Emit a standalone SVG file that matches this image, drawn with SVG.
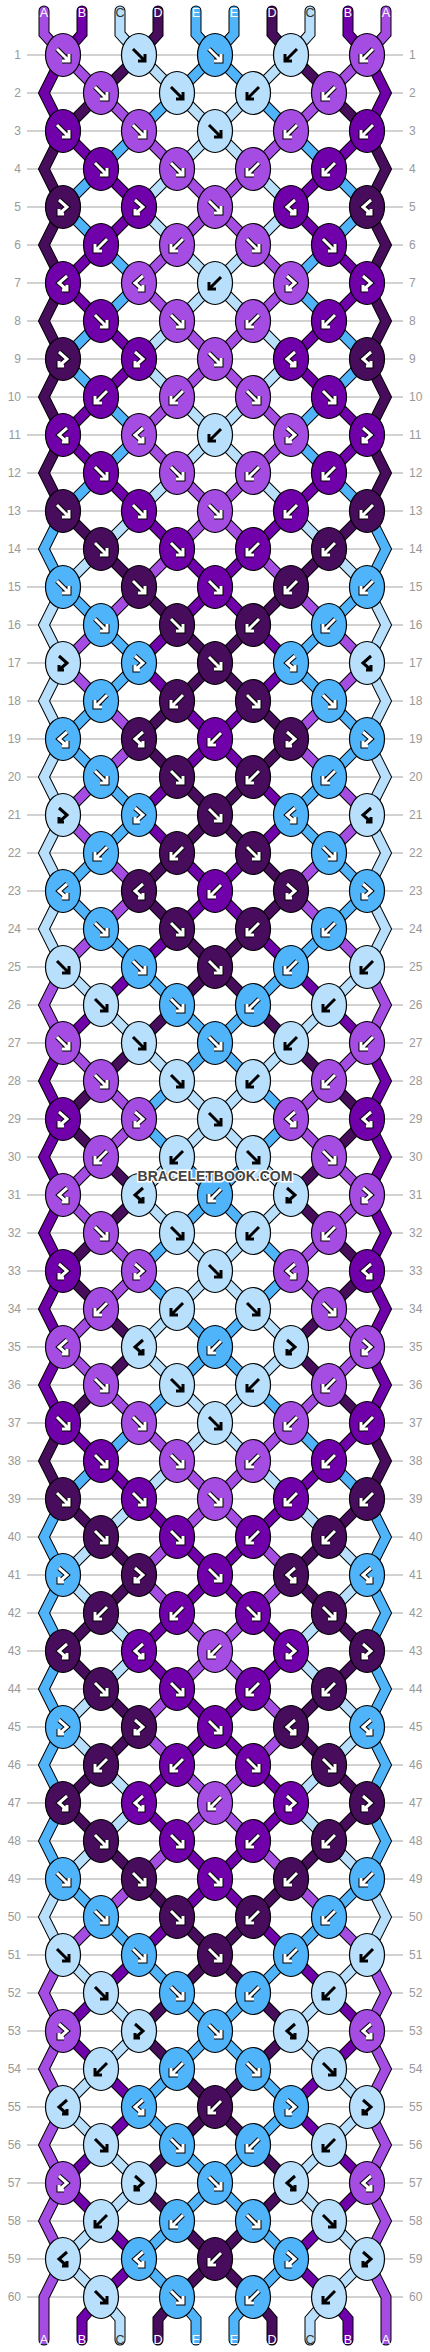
<svg xmlns="http://www.w3.org/2000/svg" xmlns:xlink="http://www.w3.org/1999/xlink" width="430" height="2352" viewBox="0 0 430 2352">
<style>
.A{fill:#a54de3}.B{fill:#7000aa}.C{fill:#b8e0fc}.D{fill:#470c5c}.E{fill:#4fb4fa}
.so use{fill:none;stroke:#000;stroke-width:11;stroke-linecap:round}
.sc use{fill:none;stroke-width:9;stroke-linecap:round}
.sA{stroke:#a54de3}.sB{stroke:#7000aa}.sC{stroke:#b8e0fc}.sD{stroke:#470c5c}.sE{stroke:#4fb4fa}
.ao{fill:none;stroke:#000;stroke-width:5}
.aw{fill:none;stroke:#fff;stroke-width:3}
.ak{fill:none;stroke:#000;stroke-width:3}
.rl{fill:none;stroke:#c4c4c4;stroke-width:1.5}
.nl text,.nr text{font-family:"Liberation Sans",Arial,sans-serif;font-size:12px;fill:#999}
.nl text{text-anchor:end}
.lab text{font-family:"Liberation Sans",Arial,sans-serif;font-size:12.5px;fill:#fff;text-anchor:middle}
.lab text.dk{fill:#333}
.wm{font-family:"Liberation Sans",Arial,sans-serif;font-size:14px;font-weight:bold;fill:#444;text-anchor:middle;stroke:#fff;stroke-width:3;paint-order:stroke}
</style>
<defs>
<ellipse id="kn" rx="17.5" ry="21.5" stroke="#000" stroke-width="1.2"/>
<path id="pf" d="M-6,-6L5.5,5.5M6,-1V6H-1"/>
<path id="pb" d="M6,-6L-5.5,5.5M-6,-1V6H1"/>
<path id="pfb" d="M-4,-7L4,0L-4,7M-4,2V7H1"/>
<path id="pbf" d="M4,-7L-4,0L4,7M4,2V7H-1"/>
<g id="wf"><use href="#pf" class="ao"/><use href="#pf" class="aw"/></g>
<g id="wb"><use href="#pb" class="ao"/><use href="#pb" class="aw"/></g>
<g id="wfb"><use href="#pfb" class="ao"/><use href="#pfb" class="aw"/></g>
<g id="wbf"><use href="#pbf" class="ao"/><use href="#pbf" class="aw"/></g>
<use id="kf" href="#pf" class="ak"/>
<use id="kb" href="#pb" class="ak"/>
<use id="kfb" href="#pfb" class="ak"/>
<use id="kbf" href="#pbf" class="ak"/>
<polyline id="pA" points="44,11 44,34 63,55 101,93 139,131 177,169 215,207 177,245 139,283 177,321 215,359 177,397 139,435 177,473 215,511 177,549 139,587 101,625 63,663 101,701 139,739 101,777 63,815 101,853 139,891 101,929 63,967 44,1005 63,1043 101,1081 139,1119 101,1157 63,1195 101,1233 139,1271 101,1309 63,1347 101,1385 139,1423 177,1461 215,1499 177,1537 139,1575 177,1613 215,1651 177,1689 139,1727 177,1765 215,1803 177,1841 139,1879 101,1917 63,1955 44,1993 63,2031 44,2069 63,2107 44,2145 63,2183 44,2221 63,2259 44,2297 44,2340"/>
<polyline id="pB" points="82,11 82,34 63,55 44,93 63,131 101,169 139,207 101,245 63,283 101,321 139,359 101,397 63,435 101,473 139,511 177,549 215,587 177,625 139,663 177,701 215,739 177,777 139,815 177,853 215,891 177,929 139,967 101,1005 63,1043 44,1081 63,1119 44,1157 63,1195 44,1233 63,1271 44,1309 63,1347 44,1385 63,1423 101,1461 139,1499 177,1537 215,1575 177,1613 139,1651 177,1689 215,1727 177,1765 139,1803 177,1841 215,1879 177,1917 139,1955 101,1993 63,2031 101,2069 139,2107 101,2145 63,2183 101,2221 139,2259 101,2297 82,2319 82,2340"/>
<polyline id="pC" points="120,11 120,34 139,55 177,93 215,131 177,169 139,207 177,245 215,283 177,321 139,359 177,397 215,435 177,473 139,511 101,549 63,587 44,625 63,663 44,701 63,739 44,777 63,815 44,853 63,891 44,929 63,967 101,1005 139,1043 177,1081 215,1119 177,1157 139,1195 177,1233 215,1271 177,1309 139,1347 177,1385 215,1423 177,1461 139,1499 101,1537 63,1575 101,1613 139,1651 101,1689 63,1727 101,1765 139,1803 101,1841 63,1879 44,1917 63,1955 101,1993 139,2031 101,2069 63,2107 101,2145 139,2183 101,2221 63,2259 101,2297 120,2319 120,2340"/>
<polyline id="pD" points="158,11 158,34 139,55 101,93 63,131 44,169 63,207 44,245 63,283 44,321 63,359 44,397 63,435 44,473 63,511 101,549 139,587 177,625 215,663 177,701 139,739 177,777 215,815 177,853 139,891 177,929 215,967 177,1005 139,1043 101,1081 63,1119 101,1157 139,1195 101,1233 63,1271 101,1309 139,1347 101,1385 63,1423 44,1461 63,1499 101,1537 139,1575 101,1613 63,1651 101,1689 139,1727 101,1765 63,1803 101,1841 139,1879 177,1917 215,1955 177,1993 139,2031 177,2069 215,2107 177,2145 139,2183 177,2221 215,2259 177,2297 158,2319 158,2340"/>
<polyline id="pE" points="196,11 196,34 215,55 177,93 139,131 101,169 63,207 101,245 139,283 101,321 63,359 101,397 139,435 101,473 63,511 44,549 63,587 101,625 139,663 101,701 63,739 101,777 139,815 101,853 63,891 101,929 139,967 177,1005 215,1043 177,1081 139,1119 177,1157 215,1195 177,1233 139,1271 177,1309 215,1347 177,1385 139,1423 101,1461 63,1499 44,1537 63,1575 44,1613 63,1651 44,1689 63,1727 44,1765 63,1803 44,1841 63,1879 101,1917 139,1955 177,1993 215,2031 177,2069 139,2107 177,2145 215,2183 177,2221 139,2259 177,2297 196,2319 196,2340"/>
</defs>
<rect width="430" height="2352" fill="#fff"/>
<path id="rowlines" class="rl" d="M27,55H403M27,93H403M27,131H403M27,169H403M27,207H403M27,245H403M27,283H403M27,321H403M27,359H403M27,397H403M27,435H403M27,473H403M27,511H403M27,549H403M27,587H403M27,625H403M27,663H403M27,701H403M27,739H403M27,777H403M27,815H403M27,853H403M27,891H403M27,929H403M27,967H403M27,1005H403M27,1043H403M27,1081H403M27,1119H403M27,1157H403M27,1195H403M27,1233H403M27,1271H403M27,1309H403M27,1347H403M27,1385H403M27,1423H403M27,1461H403M27,1499H403M27,1537H403M27,1575H403M27,1613H403M27,1651H403M27,1689H403M27,1727H403M27,1765H403M27,1803H403M27,1841H403M27,1879H403M27,1917H403M27,1955H403M27,1993H403M27,2031H403M27,2069H403M27,2107H403M27,2145H403M27,2183H403M27,2221H403M27,2259H403M27,2297H403"/>
<g id="connectors">
<g class="so">
<use href="#pA"/><use href="#pB"/><use href="#pC"/><use href="#pD"/><use href="#pE"/>
<use href="#pA" transform="matrix(-1 0 0 1 430 0)"/><use href="#pB" transform="matrix(-1 0 0 1 430 0)"/><use href="#pC" transform="matrix(-1 0 0 1 430 0)"/><use href="#pD" transform="matrix(-1 0 0 1 430 0)"/><use href="#pE" transform="matrix(-1 0 0 1 430 0)"/>
</g>
<g class="sc">
<use href="#pA" class="sA"/><use href="#pB" class="sB"/><use href="#pC" class="sC"/><use href="#pD" class="sD"/><use href="#pE" class="sE"/>
<use href="#pA" class="sA" transform="matrix(-1 0 0 1 430 0)"/><use href="#pB" class="sB" transform="matrix(-1 0 0 1 430 0)"/><use href="#pC" class="sC" transform="matrix(-1 0 0 1 430 0)"/><use href="#pD" class="sD" transform="matrix(-1 0 0 1 430 0)"/><use href="#pE" class="sE" transform="matrix(-1 0 0 1 430 0)"/>
</g>
</g>
<g id="knots">
<g id="k1-1"><use href="#kn" x="63" y="55" class="A"/><use href="#wf" x="63" y="55"/></g>
<g id="k1-2"><use href="#kn" x="139" y="55" class="C"/><use href="#kf" x="139" y="55"/></g>
<g id="k1-3"><use href="#kn" x="215" y="55" class="E"/><use href="#wf" x="215" y="55"/></g>
<g id="k1-4"><use href="#kn" x="291" y="55" class="C"/><use href="#kb" x="291" y="55"/></g>
<g id="k1-5"><use href="#kn" x="367" y="55" class="A"/><use href="#wb" x="367" y="55"/></g>
<g id="k2-1"><use href="#kn" x="101" y="93" class="A"/><use href="#wf" x="101" y="93"/></g>
<g id="k2-2"><use href="#kn" x="177" y="93" class="C"/><use href="#kf" x="177" y="93"/></g>
<g id="k2-3"><use href="#kn" x="253" y="93" class="C"/><use href="#kb" x="253" y="93"/></g>
<g id="k2-4"><use href="#kn" x="329" y="93" class="A"/><use href="#wb" x="329" y="93"/></g>
<g id="k3-1"><use href="#kn" x="63" y="131" class="B"/><use href="#wf" x="63" y="131"/></g>
<g id="k3-2"><use href="#kn" x="139" y="131" class="A"/><use href="#wf" x="139" y="131"/></g>
<g id="k3-3"><use href="#kn" x="215" y="131" class="C"/><use href="#kf" x="215" y="131"/></g>
<g id="k3-4"><use href="#kn" x="291" y="131" class="A"/><use href="#wb" x="291" y="131"/></g>
<g id="k3-5"><use href="#kn" x="367" y="131" class="B"/><use href="#wb" x="367" y="131"/></g>
<g id="k4-1"><use href="#kn" x="101" y="169" class="B"/><use href="#wf" x="101" y="169"/></g>
<g id="k4-2"><use href="#kn" x="177" y="169" class="A"/><use href="#wf" x="177" y="169"/></g>
<g id="k4-3"><use href="#kn" x="253" y="169" class="A"/><use href="#wb" x="253" y="169"/></g>
<g id="k4-4"><use href="#kn" x="329" y="169" class="B"/><use href="#wb" x="329" y="169"/></g>
<g id="k5-1"><use href="#kn" x="63" y="207" class="D"/><use href="#wfb" x="63" y="207"/></g>
<g id="k5-2"><use href="#kn" x="139" y="207" class="B"/><use href="#wfb" x="139" y="207"/></g>
<g id="k5-3"><use href="#kn" x="215" y="207" class="A"/><use href="#wf" x="215" y="207"/></g>
<g id="k5-4"><use href="#kn" x="291" y="207" class="B"/><use href="#wbf" x="291" y="207"/></g>
<g id="k5-5"><use href="#kn" x="367" y="207" class="D"/><use href="#wbf" x="367" y="207"/></g>
<g id="k6-1"><use href="#kn" x="101" y="245" class="B"/><use href="#wb" x="101" y="245"/></g>
<g id="k6-2"><use href="#kn" x="177" y="245" class="A"/><use href="#wb" x="177" y="245"/></g>
<g id="k6-3"><use href="#kn" x="253" y="245" class="A"/><use href="#wf" x="253" y="245"/></g>
<g id="k6-4"><use href="#kn" x="329" y="245" class="B"/><use href="#wf" x="329" y="245"/></g>
<g id="k7-1"><use href="#kn" x="63" y="283" class="B"/><use href="#wbf" x="63" y="283"/></g>
<g id="k7-2"><use href="#kn" x="139" y="283" class="A"/><use href="#wbf" x="139" y="283"/></g>
<g id="k7-3"><use href="#kn" x="215" y="283" class="C"/><use href="#kb" x="215" y="283"/></g>
<g id="k7-4"><use href="#kn" x="291" y="283" class="A"/><use href="#wfb" x="291" y="283"/></g>
<g id="k7-5"><use href="#kn" x="367" y="283" class="B"/><use href="#wfb" x="367" y="283"/></g>
<g id="k8-1"><use href="#kn" x="101" y="321" class="B"/><use href="#wf" x="101" y="321"/></g>
<g id="k8-2"><use href="#kn" x="177" y="321" class="A"/><use href="#wf" x="177" y="321"/></g>
<g id="k8-3"><use href="#kn" x="253" y="321" class="A"/><use href="#wb" x="253" y="321"/></g>
<g id="k8-4"><use href="#kn" x="329" y="321" class="B"/><use href="#wb" x="329" y="321"/></g>
<g id="k9-1"><use href="#kn" x="63" y="359" class="D"/><use href="#wfb" x="63" y="359"/></g>
<g id="k9-2"><use href="#kn" x="139" y="359" class="B"/><use href="#wfb" x="139" y="359"/></g>
<g id="k9-3"><use href="#kn" x="215" y="359" class="A"/><use href="#wf" x="215" y="359"/></g>
<g id="k9-4"><use href="#kn" x="291" y="359" class="B"/><use href="#wbf" x="291" y="359"/></g>
<g id="k9-5"><use href="#kn" x="367" y="359" class="D"/><use href="#wbf" x="367" y="359"/></g>
<g id="k10-1"><use href="#kn" x="101" y="397" class="B"/><use href="#wb" x="101" y="397"/></g>
<g id="k10-2"><use href="#kn" x="177" y="397" class="A"/><use href="#wb" x="177" y="397"/></g>
<g id="k10-3"><use href="#kn" x="253" y="397" class="A"/><use href="#wf" x="253" y="397"/></g>
<g id="k10-4"><use href="#kn" x="329" y="397" class="B"/><use href="#wf" x="329" y="397"/></g>
<g id="k11-1"><use href="#kn" x="63" y="435" class="B"/><use href="#wbf" x="63" y="435"/></g>
<g id="k11-2"><use href="#kn" x="139" y="435" class="A"/><use href="#wbf" x="139" y="435"/></g>
<g id="k11-3"><use href="#kn" x="215" y="435" class="C"/><use href="#kb" x="215" y="435"/></g>
<g id="k11-4"><use href="#kn" x="291" y="435" class="A"/><use href="#wfb" x="291" y="435"/></g>
<g id="k11-5"><use href="#kn" x="367" y="435" class="B"/><use href="#wfb" x="367" y="435"/></g>
<g id="k12-1"><use href="#kn" x="101" y="473" class="B"/><use href="#wf" x="101" y="473"/></g>
<g id="k12-2"><use href="#kn" x="177" y="473" class="A"/><use href="#wf" x="177" y="473"/></g>
<g id="k12-3"><use href="#kn" x="253" y="473" class="A"/><use href="#wb" x="253" y="473"/></g>
<g id="k12-4"><use href="#kn" x="329" y="473" class="B"/><use href="#wb" x="329" y="473"/></g>
<g id="k13-1"><use href="#kn" x="63" y="511" class="D"/><use href="#wf" x="63" y="511"/></g>
<g id="k13-2"><use href="#kn" x="139" y="511" class="B"/><use href="#wf" x="139" y="511"/></g>
<g id="k13-3"><use href="#kn" x="215" y="511" class="A"/><use href="#wf" x="215" y="511"/></g>
<g id="k13-4"><use href="#kn" x="291" y="511" class="B"/><use href="#wb" x="291" y="511"/></g>
<g id="k13-5"><use href="#kn" x="367" y="511" class="D"/><use href="#wb" x="367" y="511"/></g>
<g id="k14-1"><use href="#kn" x="101" y="549" class="D"/><use href="#wf" x="101" y="549"/></g>
<g id="k14-2"><use href="#kn" x="177" y="549" class="B"/><use href="#wf" x="177" y="549"/></g>
<g id="k14-3"><use href="#kn" x="253" y="549" class="B"/><use href="#wb" x="253" y="549"/></g>
<g id="k14-4"><use href="#kn" x="329" y="549" class="D"/><use href="#wb" x="329" y="549"/></g>
<g id="k15-1"><use href="#kn" x="63" y="587" class="E"/><use href="#wf" x="63" y="587"/></g>
<g id="k15-2"><use href="#kn" x="139" y="587" class="D"/><use href="#wf" x="139" y="587"/></g>
<g id="k15-3"><use href="#kn" x="215" y="587" class="B"/><use href="#wf" x="215" y="587"/></g>
<g id="k15-4"><use href="#kn" x="291" y="587" class="D"/><use href="#wb" x="291" y="587"/></g>
<g id="k15-5"><use href="#kn" x="367" y="587" class="E"/><use href="#wb" x="367" y="587"/></g>
<g id="k16-1"><use href="#kn" x="101" y="625" class="E"/><use href="#wf" x="101" y="625"/></g>
<g id="k16-2"><use href="#kn" x="177" y="625" class="D"/><use href="#wf" x="177" y="625"/></g>
<g id="k16-3"><use href="#kn" x="253" y="625" class="D"/><use href="#wb" x="253" y="625"/></g>
<g id="k16-4"><use href="#kn" x="329" y="625" class="E"/><use href="#wb" x="329" y="625"/></g>
<g id="k17-1"><use href="#kn" x="63" y="663" class="C"/><use href="#kfb" x="63" y="663"/></g>
<g id="k17-2"><use href="#kn" x="139" y="663" class="E"/><use href="#wfb" x="139" y="663"/></g>
<g id="k17-3"><use href="#kn" x="215" y="663" class="D"/><use href="#wf" x="215" y="663"/></g>
<g id="k17-4"><use href="#kn" x="291" y="663" class="E"/><use href="#wbf" x="291" y="663"/></g>
<g id="k17-5"><use href="#kn" x="367" y="663" class="C"/><use href="#kbf" x="367" y="663"/></g>
<g id="k18-1"><use href="#kn" x="101" y="701" class="E"/><use href="#wb" x="101" y="701"/></g>
<g id="k18-2"><use href="#kn" x="177" y="701" class="D"/><use href="#wb" x="177" y="701"/></g>
<g id="k18-3"><use href="#kn" x="253" y="701" class="D"/><use href="#wf" x="253" y="701"/></g>
<g id="k18-4"><use href="#kn" x="329" y="701" class="E"/><use href="#wf" x="329" y="701"/></g>
<g id="k19-1"><use href="#kn" x="63" y="739" class="E"/><use href="#wbf" x="63" y="739"/></g>
<g id="k19-2"><use href="#kn" x="139" y="739" class="D"/><use href="#wbf" x="139" y="739"/></g>
<g id="k19-3"><use href="#kn" x="215" y="739" class="B"/><use href="#wb" x="215" y="739"/></g>
<g id="k19-4"><use href="#kn" x="291" y="739" class="D"/><use href="#wfb" x="291" y="739"/></g>
<g id="k19-5"><use href="#kn" x="367" y="739" class="E"/><use href="#wfb" x="367" y="739"/></g>
<g id="k20-1"><use href="#kn" x="101" y="777" class="E"/><use href="#wf" x="101" y="777"/></g>
<g id="k20-2"><use href="#kn" x="177" y="777" class="D"/><use href="#wf" x="177" y="777"/></g>
<g id="k20-3"><use href="#kn" x="253" y="777" class="D"/><use href="#wb" x="253" y="777"/></g>
<g id="k20-4"><use href="#kn" x="329" y="777" class="E"/><use href="#wb" x="329" y="777"/></g>
<g id="k21-1"><use href="#kn" x="63" y="815" class="C"/><use href="#kfb" x="63" y="815"/></g>
<g id="k21-2"><use href="#kn" x="139" y="815" class="E"/><use href="#wfb" x="139" y="815"/></g>
<g id="k21-3"><use href="#kn" x="215" y="815" class="D"/><use href="#wf" x="215" y="815"/></g>
<g id="k21-4"><use href="#kn" x="291" y="815" class="E"/><use href="#wbf" x="291" y="815"/></g>
<g id="k21-5"><use href="#kn" x="367" y="815" class="C"/><use href="#kbf" x="367" y="815"/></g>
<g id="k22-1"><use href="#kn" x="101" y="853" class="E"/><use href="#wb" x="101" y="853"/></g>
<g id="k22-2"><use href="#kn" x="177" y="853" class="D"/><use href="#wb" x="177" y="853"/></g>
<g id="k22-3"><use href="#kn" x="253" y="853" class="D"/><use href="#wf" x="253" y="853"/></g>
<g id="k22-4"><use href="#kn" x="329" y="853" class="E"/><use href="#wf" x="329" y="853"/></g>
<g id="k23-1"><use href="#kn" x="63" y="891" class="E"/><use href="#wbf" x="63" y="891"/></g>
<g id="k23-2"><use href="#kn" x="139" y="891" class="D"/><use href="#wbf" x="139" y="891"/></g>
<g id="k23-3"><use href="#kn" x="215" y="891" class="B"/><use href="#wb" x="215" y="891"/></g>
<g id="k23-4"><use href="#kn" x="291" y="891" class="D"/><use href="#wfb" x="291" y="891"/></g>
<g id="k23-5"><use href="#kn" x="367" y="891" class="E"/><use href="#wfb" x="367" y="891"/></g>
<g id="k24-1"><use href="#kn" x="101" y="929" class="E"/><use href="#wf" x="101" y="929"/></g>
<g id="k24-2"><use href="#kn" x="177" y="929" class="D"/><use href="#wf" x="177" y="929"/></g>
<g id="k24-3"><use href="#kn" x="253" y="929" class="D"/><use href="#wb" x="253" y="929"/></g>
<g id="k24-4"><use href="#kn" x="329" y="929" class="E"/><use href="#wb" x="329" y="929"/></g>
<g id="k25-1"><use href="#kn" x="63" y="967" class="C"/><use href="#kf" x="63" y="967"/></g>
<g id="k25-2"><use href="#kn" x="139" y="967" class="E"/><use href="#wf" x="139" y="967"/></g>
<g id="k25-3"><use href="#kn" x="215" y="967" class="D"/><use href="#wf" x="215" y="967"/></g>
<g id="k25-4"><use href="#kn" x="291" y="967" class="E"/><use href="#wb" x="291" y="967"/></g>
<g id="k25-5"><use href="#kn" x="367" y="967" class="C"/><use href="#kb" x="367" y="967"/></g>
<g id="k26-1"><use href="#kn" x="101" y="1005" class="C"/><use href="#kf" x="101" y="1005"/></g>
<g id="k26-2"><use href="#kn" x="177" y="1005" class="E"/><use href="#wf" x="177" y="1005"/></g>
<g id="k26-3"><use href="#kn" x="253" y="1005" class="E"/><use href="#wb" x="253" y="1005"/></g>
<g id="k26-4"><use href="#kn" x="329" y="1005" class="C"/><use href="#kb" x="329" y="1005"/></g>
<g id="k27-1"><use href="#kn" x="63" y="1043" class="A"/><use href="#wf" x="63" y="1043"/></g>
<g id="k27-2"><use href="#kn" x="139" y="1043" class="C"/><use href="#kf" x="139" y="1043"/></g>
<g id="k27-3"><use href="#kn" x="215" y="1043" class="E"/><use href="#wf" x="215" y="1043"/></g>
<g id="k27-4"><use href="#kn" x="291" y="1043" class="C"/><use href="#kb" x="291" y="1043"/></g>
<g id="k27-5"><use href="#kn" x="367" y="1043" class="A"/><use href="#wb" x="367" y="1043"/></g>
<g id="k28-1"><use href="#kn" x="101" y="1081" class="A"/><use href="#wf" x="101" y="1081"/></g>
<g id="k28-2"><use href="#kn" x="177" y="1081" class="C"/><use href="#kf" x="177" y="1081"/></g>
<g id="k28-3"><use href="#kn" x="253" y="1081" class="C"/><use href="#kb" x="253" y="1081"/></g>
<g id="k28-4"><use href="#kn" x="329" y="1081" class="A"/><use href="#wb" x="329" y="1081"/></g>
<g id="k29-1"><use href="#kn" x="63" y="1119" class="B"/><use href="#wfb" x="63" y="1119"/></g>
<g id="k29-2"><use href="#kn" x="139" y="1119" class="A"/><use href="#wfb" x="139" y="1119"/></g>
<g id="k29-3"><use href="#kn" x="215" y="1119" class="C"/><use href="#kf" x="215" y="1119"/></g>
<g id="k29-4"><use href="#kn" x="291" y="1119" class="A"/><use href="#wbf" x="291" y="1119"/></g>
<g id="k29-5"><use href="#kn" x="367" y="1119" class="B"/><use href="#wbf" x="367" y="1119"/></g>
<g id="k30-1"><use href="#kn" x="101" y="1157" class="A"/><use href="#wb" x="101" y="1157"/></g>
<g id="k30-2"><use href="#kn" x="177" y="1157" class="C"/><use href="#kb" x="177" y="1157"/></g>
<g id="k30-3"><use href="#kn" x="253" y="1157" class="C"/><use href="#kf" x="253" y="1157"/></g>
<g id="k30-4"><use href="#kn" x="329" y="1157" class="A"/><use href="#wf" x="329" y="1157"/></g>
<g id="k31-1"><use href="#kn" x="63" y="1195" class="A"/><use href="#wbf" x="63" y="1195"/></g>
<g id="k31-2"><use href="#kn" x="139" y="1195" class="C"/><use href="#kbf" x="139" y="1195"/></g>
<g id="k31-3"><use href="#kn" x="215" y="1195" class="E"/><use href="#wb" x="215" y="1195"/></g>
<g id="k31-4"><use href="#kn" x="291" y="1195" class="C"/><use href="#kfb" x="291" y="1195"/></g>
<g id="k31-5"><use href="#kn" x="367" y="1195" class="A"/><use href="#wfb" x="367" y="1195"/></g>
<g id="k32-1"><use href="#kn" x="101" y="1233" class="A"/><use href="#wf" x="101" y="1233"/></g>
<g id="k32-2"><use href="#kn" x="177" y="1233" class="C"/><use href="#kf" x="177" y="1233"/></g>
<g id="k32-3"><use href="#kn" x="253" y="1233" class="C"/><use href="#kb" x="253" y="1233"/></g>
<g id="k32-4"><use href="#kn" x="329" y="1233" class="A"/><use href="#wb" x="329" y="1233"/></g>
<g id="k33-1"><use href="#kn" x="63" y="1271" class="B"/><use href="#wfb" x="63" y="1271"/></g>
<g id="k33-2"><use href="#kn" x="139" y="1271" class="A"/><use href="#wfb" x="139" y="1271"/></g>
<g id="k33-3"><use href="#kn" x="215" y="1271" class="C"/><use href="#kf" x="215" y="1271"/></g>
<g id="k33-4"><use href="#kn" x="291" y="1271" class="A"/><use href="#wbf" x="291" y="1271"/></g>
<g id="k33-5"><use href="#kn" x="367" y="1271" class="B"/><use href="#wbf" x="367" y="1271"/></g>
<g id="k34-1"><use href="#kn" x="101" y="1309" class="A"/><use href="#wb" x="101" y="1309"/></g>
<g id="k34-2"><use href="#kn" x="177" y="1309" class="C"/><use href="#kb" x="177" y="1309"/></g>
<g id="k34-3"><use href="#kn" x="253" y="1309" class="C"/><use href="#kf" x="253" y="1309"/></g>
<g id="k34-4"><use href="#kn" x="329" y="1309" class="A"/><use href="#wf" x="329" y="1309"/></g>
<g id="k35-1"><use href="#kn" x="63" y="1347" class="A"/><use href="#wbf" x="63" y="1347"/></g>
<g id="k35-2"><use href="#kn" x="139" y="1347" class="C"/><use href="#kbf" x="139" y="1347"/></g>
<g id="k35-3"><use href="#kn" x="215" y="1347" class="E"/><use href="#wb" x="215" y="1347"/></g>
<g id="k35-4"><use href="#kn" x="291" y="1347" class="C"/><use href="#kfb" x="291" y="1347"/></g>
<g id="k35-5"><use href="#kn" x="367" y="1347" class="A"/><use href="#wfb" x="367" y="1347"/></g>
<g id="k36-1"><use href="#kn" x="101" y="1385" class="A"/><use href="#wf" x="101" y="1385"/></g>
<g id="k36-2"><use href="#kn" x="177" y="1385" class="C"/><use href="#kf" x="177" y="1385"/></g>
<g id="k36-3"><use href="#kn" x="253" y="1385" class="C"/><use href="#kb" x="253" y="1385"/></g>
<g id="k36-4"><use href="#kn" x="329" y="1385" class="A"/><use href="#wb" x="329" y="1385"/></g>
<g id="k37-1"><use href="#kn" x="63" y="1423" class="B"/><use href="#wf" x="63" y="1423"/></g>
<g id="k37-2"><use href="#kn" x="139" y="1423" class="A"/><use href="#wf" x="139" y="1423"/></g>
<g id="k37-3"><use href="#kn" x="215" y="1423" class="C"/><use href="#kf" x="215" y="1423"/></g>
<g id="k37-4"><use href="#kn" x="291" y="1423" class="A"/><use href="#wb" x="291" y="1423"/></g>
<g id="k37-5"><use href="#kn" x="367" y="1423" class="B"/><use href="#wb" x="367" y="1423"/></g>
<g id="k38-1"><use href="#kn" x="101" y="1461" class="B"/><use href="#wf" x="101" y="1461"/></g>
<g id="k38-2"><use href="#kn" x="177" y="1461" class="A"/><use href="#wf" x="177" y="1461"/></g>
<g id="k38-3"><use href="#kn" x="253" y="1461" class="A"/><use href="#wb" x="253" y="1461"/></g>
<g id="k38-4"><use href="#kn" x="329" y="1461" class="B"/><use href="#wb" x="329" y="1461"/></g>
<g id="k39-1"><use href="#kn" x="63" y="1499" class="D"/><use href="#wf" x="63" y="1499"/></g>
<g id="k39-2"><use href="#kn" x="139" y="1499" class="B"/><use href="#wf" x="139" y="1499"/></g>
<g id="k39-3"><use href="#kn" x="215" y="1499" class="A"/><use href="#wf" x="215" y="1499"/></g>
<g id="k39-4"><use href="#kn" x="291" y="1499" class="B"/><use href="#wb" x="291" y="1499"/></g>
<g id="k39-5"><use href="#kn" x="367" y="1499" class="D"/><use href="#wb" x="367" y="1499"/></g>
<g id="k40-1"><use href="#kn" x="101" y="1537" class="D"/><use href="#wf" x="101" y="1537"/></g>
<g id="k40-2"><use href="#kn" x="177" y="1537" class="B"/><use href="#wf" x="177" y="1537"/></g>
<g id="k40-3"><use href="#kn" x="253" y="1537" class="B"/><use href="#wb" x="253" y="1537"/></g>
<g id="k40-4"><use href="#kn" x="329" y="1537" class="D"/><use href="#wb" x="329" y="1537"/></g>
<g id="k41-1"><use href="#kn" x="63" y="1575" class="E"/><use href="#wfb" x="63" y="1575"/></g>
<g id="k41-2"><use href="#kn" x="139" y="1575" class="D"/><use href="#wfb" x="139" y="1575"/></g>
<g id="k41-3"><use href="#kn" x="215" y="1575" class="B"/><use href="#wf" x="215" y="1575"/></g>
<g id="k41-4"><use href="#kn" x="291" y="1575" class="D"/><use href="#wbf" x="291" y="1575"/></g>
<g id="k41-5"><use href="#kn" x="367" y="1575" class="E"/><use href="#wbf" x="367" y="1575"/></g>
<g id="k42-1"><use href="#kn" x="101" y="1613" class="D"/><use href="#wb" x="101" y="1613"/></g>
<g id="k42-2"><use href="#kn" x="177" y="1613" class="B"/><use href="#wb" x="177" y="1613"/></g>
<g id="k42-3"><use href="#kn" x="253" y="1613" class="B"/><use href="#wf" x="253" y="1613"/></g>
<g id="k42-4"><use href="#kn" x="329" y="1613" class="D"/><use href="#wf" x="329" y="1613"/></g>
<g id="k43-1"><use href="#kn" x="63" y="1651" class="D"/><use href="#wbf" x="63" y="1651"/></g>
<g id="k43-2"><use href="#kn" x="139" y="1651" class="B"/><use href="#wbf" x="139" y="1651"/></g>
<g id="k43-3"><use href="#kn" x="215" y="1651" class="A"/><use href="#wb" x="215" y="1651"/></g>
<g id="k43-4"><use href="#kn" x="291" y="1651" class="B"/><use href="#wfb" x="291" y="1651"/></g>
<g id="k43-5"><use href="#kn" x="367" y="1651" class="D"/><use href="#wfb" x="367" y="1651"/></g>
<g id="k44-1"><use href="#kn" x="101" y="1689" class="D"/><use href="#wf" x="101" y="1689"/></g>
<g id="k44-2"><use href="#kn" x="177" y="1689" class="B"/><use href="#wf" x="177" y="1689"/></g>
<g id="k44-3"><use href="#kn" x="253" y="1689" class="B"/><use href="#wb" x="253" y="1689"/></g>
<g id="k44-4"><use href="#kn" x="329" y="1689" class="D"/><use href="#wb" x="329" y="1689"/></g>
<g id="k45-1"><use href="#kn" x="63" y="1727" class="E"/><use href="#wfb" x="63" y="1727"/></g>
<g id="k45-2"><use href="#kn" x="139" y="1727" class="D"/><use href="#wfb" x="139" y="1727"/></g>
<g id="k45-3"><use href="#kn" x="215" y="1727" class="B"/><use href="#wf" x="215" y="1727"/></g>
<g id="k45-4"><use href="#kn" x="291" y="1727" class="D"/><use href="#wbf" x="291" y="1727"/></g>
<g id="k45-5"><use href="#kn" x="367" y="1727" class="E"/><use href="#wbf" x="367" y="1727"/></g>
<g id="k46-1"><use href="#kn" x="101" y="1765" class="D"/><use href="#wb" x="101" y="1765"/></g>
<g id="k46-2"><use href="#kn" x="177" y="1765" class="B"/><use href="#wb" x="177" y="1765"/></g>
<g id="k46-3"><use href="#kn" x="253" y="1765" class="B"/><use href="#wf" x="253" y="1765"/></g>
<g id="k46-4"><use href="#kn" x="329" y="1765" class="D"/><use href="#wf" x="329" y="1765"/></g>
<g id="k47-1"><use href="#kn" x="63" y="1803" class="D"/><use href="#wbf" x="63" y="1803"/></g>
<g id="k47-2"><use href="#kn" x="139" y="1803" class="B"/><use href="#wbf" x="139" y="1803"/></g>
<g id="k47-3"><use href="#kn" x="215" y="1803" class="A"/><use href="#wb" x="215" y="1803"/></g>
<g id="k47-4"><use href="#kn" x="291" y="1803" class="B"/><use href="#wfb" x="291" y="1803"/></g>
<g id="k47-5"><use href="#kn" x="367" y="1803" class="D"/><use href="#wfb" x="367" y="1803"/></g>
<g id="k48-1"><use href="#kn" x="101" y="1841" class="D"/><use href="#wf" x="101" y="1841"/></g>
<g id="k48-2"><use href="#kn" x="177" y="1841" class="B"/><use href="#wf" x="177" y="1841"/></g>
<g id="k48-3"><use href="#kn" x="253" y="1841" class="B"/><use href="#wb" x="253" y="1841"/></g>
<g id="k48-4"><use href="#kn" x="329" y="1841" class="D"/><use href="#wb" x="329" y="1841"/></g>
<g id="k49-1"><use href="#kn" x="63" y="1879" class="E"/><use href="#wf" x="63" y="1879"/></g>
<g id="k49-2"><use href="#kn" x="139" y="1879" class="D"/><use href="#wf" x="139" y="1879"/></g>
<g id="k49-3"><use href="#kn" x="215" y="1879" class="B"/><use href="#wf" x="215" y="1879"/></g>
<g id="k49-4"><use href="#kn" x="291" y="1879" class="D"/><use href="#wb" x="291" y="1879"/></g>
<g id="k49-5"><use href="#kn" x="367" y="1879" class="E"/><use href="#wb" x="367" y="1879"/></g>
<g id="k50-1"><use href="#kn" x="101" y="1917" class="E"/><use href="#wf" x="101" y="1917"/></g>
<g id="k50-2"><use href="#kn" x="177" y="1917" class="D"/><use href="#wf" x="177" y="1917"/></g>
<g id="k50-3"><use href="#kn" x="253" y="1917" class="D"/><use href="#wb" x="253" y="1917"/></g>
<g id="k50-4"><use href="#kn" x="329" y="1917" class="E"/><use href="#wb" x="329" y="1917"/></g>
<g id="k51-1"><use href="#kn" x="63" y="1955" class="C"/><use href="#kf" x="63" y="1955"/></g>
<g id="k51-2"><use href="#kn" x="139" y="1955" class="E"/><use href="#wf" x="139" y="1955"/></g>
<g id="k51-3"><use href="#kn" x="215" y="1955" class="D"/><use href="#wf" x="215" y="1955"/></g>
<g id="k51-4"><use href="#kn" x="291" y="1955" class="E"/><use href="#wb" x="291" y="1955"/></g>
<g id="k51-5"><use href="#kn" x="367" y="1955" class="C"/><use href="#kb" x="367" y="1955"/></g>
<g id="k52-1"><use href="#kn" x="101" y="1993" class="C"/><use href="#kf" x="101" y="1993"/></g>
<g id="k52-2"><use href="#kn" x="177" y="1993" class="E"/><use href="#wf" x="177" y="1993"/></g>
<g id="k52-3"><use href="#kn" x="253" y="1993" class="E"/><use href="#wb" x="253" y="1993"/></g>
<g id="k52-4"><use href="#kn" x="329" y="1993" class="C"/><use href="#kb" x="329" y="1993"/></g>
<g id="k53-1"><use href="#kn" x="63" y="2031" class="A"/><use href="#wfb" x="63" y="2031"/></g>
<g id="k53-2"><use href="#kn" x="139" y="2031" class="C"/><use href="#kfb" x="139" y="2031"/></g>
<g id="k53-3"><use href="#kn" x="215" y="2031" class="E"/><use href="#wf" x="215" y="2031"/></g>
<g id="k53-4"><use href="#kn" x="291" y="2031" class="C"/><use href="#kbf" x="291" y="2031"/></g>
<g id="k53-5"><use href="#kn" x="367" y="2031" class="A"/><use href="#wbf" x="367" y="2031"/></g>
<g id="k54-1"><use href="#kn" x="101" y="2069" class="C"/><use href="#kb" x="101" y="2069"/></g>
<g id="k54-2"><use href="#kn" x="177" y="2069" class="E"/><use href="#wb" x="177" y="2069"/></g>
<g id="k54-3"><use href="#kn" x="253" y="2069" class="E"/><use href="#wf" x="253" y="2069"/></g>
<g id="k54-4"><use href="#kn" x="329" y="2069" class="C"/><use href="#kf" x="329" y="2069"/></g>
<g id="k55-1"><use href="#kn" x="63" y="2107" class="C"/><use href="#kbf" x="63" y="2107"/></g>
<g id="k55-2"><use href="#kn" x="139" y="2107" class="E"/><use href="#wbf" x="139" y="2107"/></g>
<g id="k55-3"><use href="#kn" x="215" y="2107" class="D"/><use href="#wb" x="215" y="2107"/></g>
<g id="k55-4"><use href="#kn" x="291" y="2107" class="E"/><use href="#wfb" x="291" y="2107"/></g>
<g id="k55-5"><use href="#kn" x="367" y="2107" class="C"/><use href="#kfb" x="367" y="2107"/></g>
<g id="k56-1"><use href="#kn" x="101" y="2145" class="C"/><use href="#kf" x="101" y="2145"/></g>
<g id="k56-2"><use href="#kn" x="177" y="2145" class="E"/><use href="#wf" x="177" y="2145"/></g>
<g id="k56-3"><use href="#kn" x="253" y="2145" class="E"/><use href="#wb" x="253" y="2145"/></g>
<g id="k56-4"><use href="#kn" x="329" y="2145" class="C"/><use href="#kb" x="329" y="2145"/></g>
<g id="k57-1"><use href="#kn" x="63" y="2183" class="A"/><use href="#wfb" x="63" y="2183"/></g>
<g id="k57-2"><use href="#kn" x="139" y="2183" class="C"/><use href="#kfb" x="139" y="2183"/></g>
<g id="k57-3"><use href="#kn" x="215" y="2183" class="E"/><use href="#wf" x="215" y="2183"/></g>
<g id="k57-4"><use href="#kn" x="291" y="2183" class="C"/><use href="#kbf" x="291" y="2183"/></g>
<g id="k57-5"><use href="#kn" x="367" y="2183" class="A"/><use href="#wbf" x="367" y="2183"/></g>
<g id="k58-1"><use href="#kn" x="101" y="2221" class="C"/><use href="#kb" x="101" y="2221"/></g>
<g id="k58-2"><use href="#kn" x="177" y="2221" class="E"/><use href="#wb" x="177" y="2221"/></g>
<g id="k58-3"><use href="#kn" x="253" y="2221" class="E"/><use href="#wf" x="253" y="2221"/></g>
<g id="k58-4"><use href="#kn" x="329" y="2221" class="C"/><use href="#kf" x="329" y="2221"/></g>
<g id="k59-1"><use href="#kn" x="63" y="2259" class="C"/><use href="#kbf" x="63" y="2259"/></g>
<g id="k59-2"><use href="#kn" x="139" y="2259" class="E"/><use href="#wbf" x="139" y="2259"/></g>
<g id="k59-3"><use href="#kn" x="215" y="2259" class="D"/><use href="#wb" x="215" y="2259"/></g>
<g id="k59-4"><use href="#kn" x="291" y="2259" class="E"/><use href="#wfb" x="291" y="2259"/></g>
<g id="k59-5"><use href="#kn" x="367" y="2259" class="C"/><use href="#kfb" x="367" y="2259"/></g>
<g id="k60-1"><use href="#kn" x="101" y="2297" class="C"/><use href="#kf" x="101" y="2297"/></g>
<g id="k60-2"><use href="#kn" x="177" y="2297" class="E"/><use href="#wf" x="177" y="2297"/></g>
<g id="k60-3"><use href="#kn" x="253" y="2297" class="E"/><use href="#wb" x="253" y="2297"/></g>
<g id="k60-4"><use href="#kn" x="329" y="2297" class="C"/><use href="#kb" x="329" y="2297"/></g>
</g>
<g id="labels" class="lab">
<text x="44" y="17">A</text><text x="82" y="17">B</text><text x="120" y="17" class="dk">C</text><text x="158" y="17">D</text><text x="196" y="17">E</text><text x="234" y="17">E</text><text x="272" y="17">D</text><text x="310" y="17" class="dk">C</text><text x="348" y="17">B</text><text x="386" y="17">A</text>
<text x="44" y="2344">A</text><text x="82" y="2344">B</text><text x="120" y="2344" class="dk">C</text><text x="158" y="2344">D</text><text x="196" y="2344">E</text><text x="234" y="2344">E</text><text x="272" y="2344">D</text><text x="310" y="2344" class="dk">C</text><text x="348" y="2344">B</text><text x="386" y="2344">A</text>
</g>
<g id="rownums-left" class="nl">
<text x="21" y="59">1</text><text x="21" y="97">2</text><text x="21" y="135">3</text><text x="21" y="173">4</text><text x="21" y="211">5</text><text x="21" y="249">6</text><text x="21" y="287">7</text><text x="21" y="325">8</text><text x="21" y="363">9</text><text x="21" y="401">10</text><text x="21" y="439">11</text><text x="21" y="477">12</text><text x="21" y="515">13</text><text x="21" y="553">14</text><text x="21" y="591">15</text><text x="21" y="629">16</text><text x="21" y="667">17</text><text x="21" y="705">18</text><text x="21" y="743">19</text><text x="21" y="781">20</text><text x="21" y="819">21</text><text x="21" y="857">22</text><text x="21" y="895">23</text><text x="21" y="933">24</text><text x="21" y="971">25</text><text x="21" y="1009">26</text><text x="21" y="1047">27</text><text x="21" y="1085">28</text><text x="21" y="1123">29</text><text x="21" y="1161">30</text><text x="21" y="1199">31</text><text x="21" y="1237">32</text><text x="21" y="1275">33</text><text x="21" y="1313">34</text><text x="21" y="1351">35</text><text x="21" y="1389">36</text><text x="21" y="1427">37</text><text x="21" y="1465">38</text><text x="21" y="1503">39</text><text x="21" y="1541">40</text><text x="21" y="1579">41</text><text x="21" y="1617">42</text><text x="21" y="1655">43</text><text x="21" y="1693">44</text><text x="21" y="1731">45</text><text x="21" y="1769">46</text><text x="21" y="1807">47</text><text x="21" y="1845">48</text><text x="21" y="1883">49</text><text x="21" y="1921">50</text><text x="21" y="1959">51</text><text x="21" y="1997">52</text><text x="21" y="2035">53</text><text x="21" y="2073">54</text><text x="21" y="2111">55</text><text x="21" y="2149">56</text><text x="21" y="2187">57</text><text x="21" y="2225">58</text><text x="21" y="2263">59</text><text x="21" y="2301">60</text>
</g>
<g id="rownums-right" class="nr">
<text x="409" y="59">1</text><text x="409" y="97">2</text><text x="409" y="135">3</text><text x="409" y="173">4</text><text x="409" y="211">5</text><text x="409" y="249">6</text><text x="409" y="287">7</text><text x="409" y="325">8</text><text x="409" y="363">9</text><text x="409" y="401">10</text><text x="409" y="439">11</text><text x="409" y="477">12</text><text x="409" y="515">13</text><text x="409" y="553">14</text><text x="409" y="591">15</text><text x="409" y="629">16</text><text x="409" y="667">17</text><text x="409" y="705">18</text><text x="409" y="743">19</text><text x="409" y="781">20</text><text x="409" y="819">21</text><text x="409" y="857">22</text><text x="409" y="895">23</text><text x="409" y="933">24</text><text x="409" y="971">25</text><text x="409" y="1009">26</text><text x="409" y="1047">27</text><text x="409" y="1085">28</text><text x="409" y="1123">29</text><text x="409" y="1161">30</text><text x="409" y="1199">31</text><text x="409" y="1237">32</text><text x="409" y="1275">33</text><text x="409" y="1313">34</text><text x="409" y="1351">35</text><text x="409" y="1389">36</text><text x="409" y="1427">37</text><text x="409" y="1465">38</text><text x="409" y="1503">39</text><text x="409" y="1541">40</text><text x="409" y="1579">41</text><text x="409" y="1617">42</text><text x="409" y="1655">43</text><text x="409" y="1693">44</text><text x="409" y="1731">45</text><text x="409" y="1769">46</text><text x="409" y="1807">47</text><text x="409" y="1845">48</text><text x="409" y="1883">49</text><text x="409" y="1921">50</text><text x="409" y="1959">51</text><text x="409" y="1997">52</text><text x="409" y="2035">53</text><text x="409" y="2073">54</text><text x="409" y="2111">55</text><text x="409" y="2149">56</text><text x="409" y="2187">57</text><text x="409" y="2225">58</text><text x="409" y="2263">59</text><text x="409" y="2301">60</text>
</g>
<text id="watermark" class="wm" x="215" y="1181">BRACELETBOOK.COM</text>
</svg>
